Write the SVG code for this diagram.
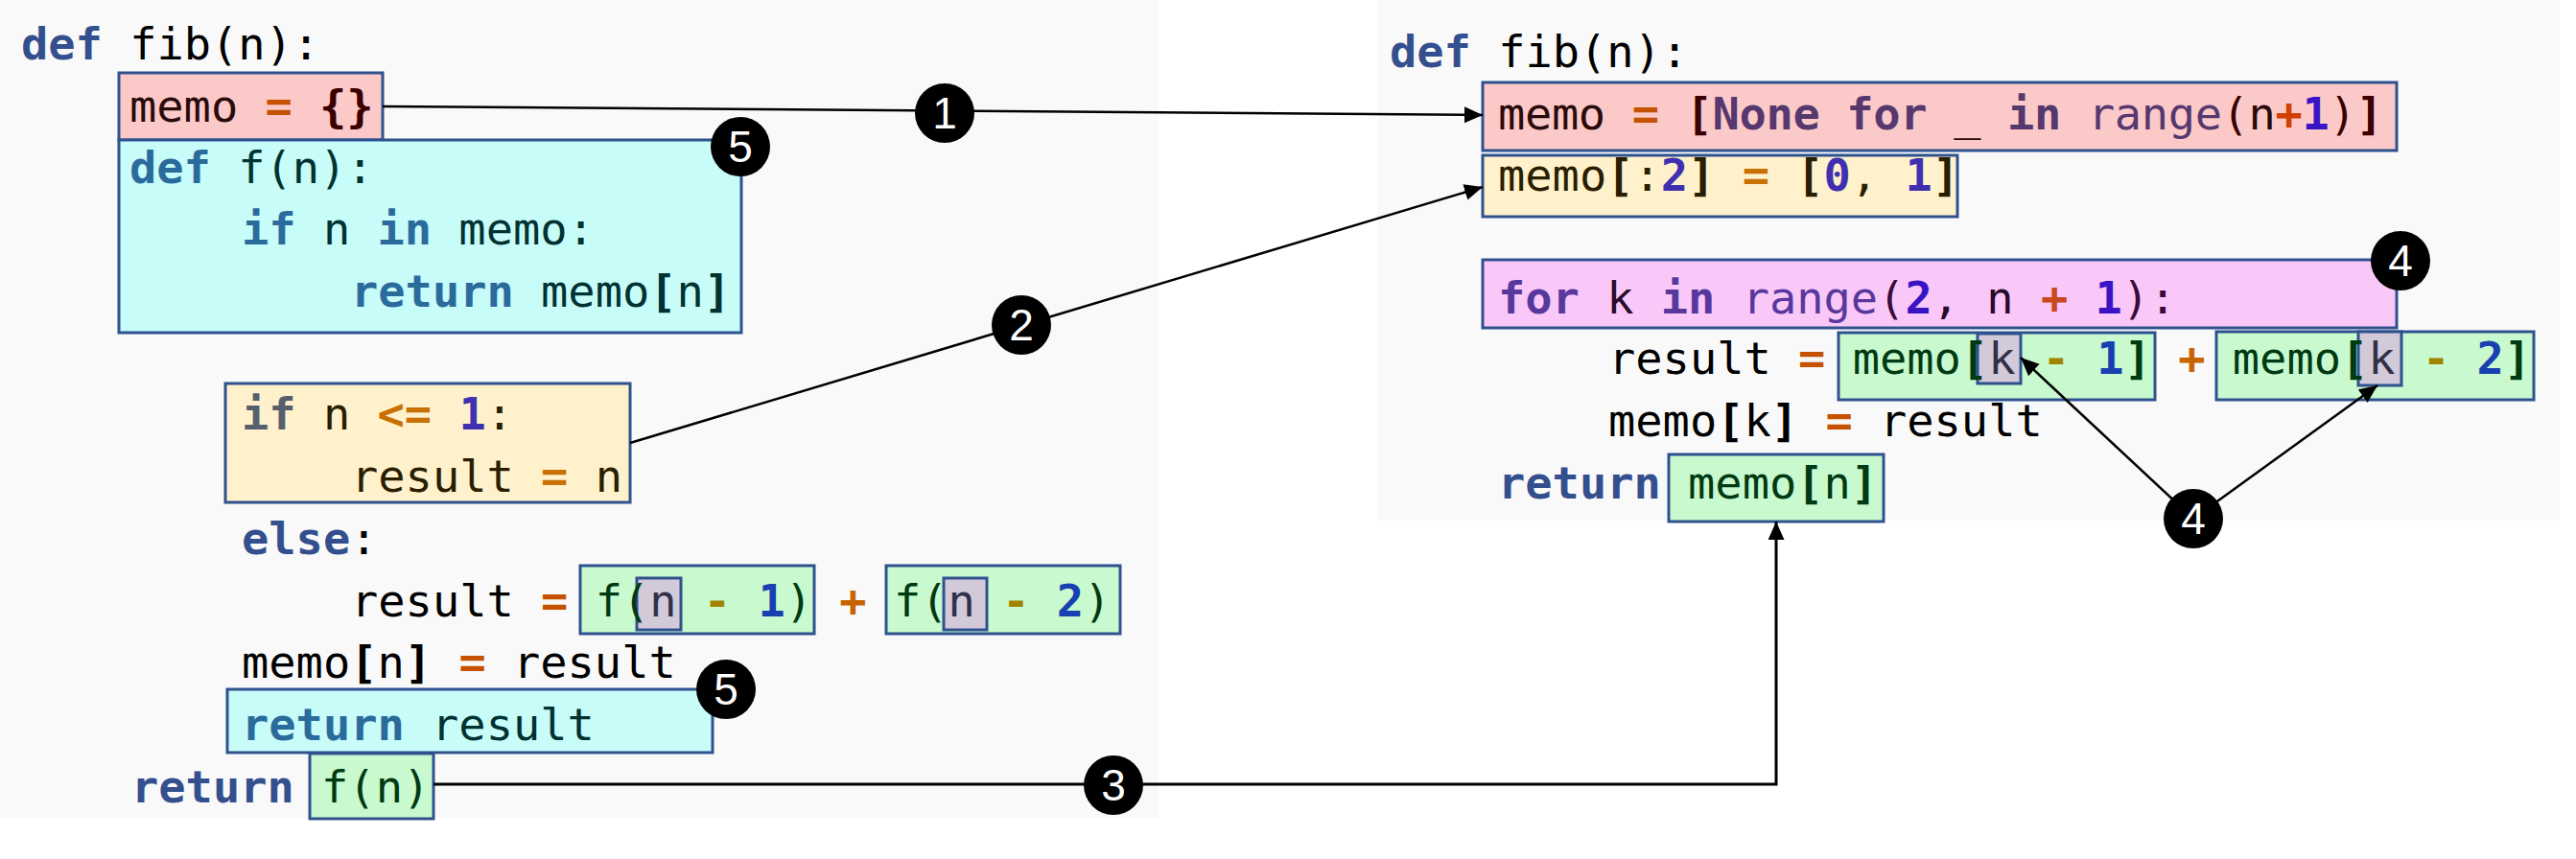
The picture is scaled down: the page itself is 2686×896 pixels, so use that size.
<svg xmlns="http://www.w3.org/2000/svg" width="2686" height="896" viewBox="0 0 2686 896">
<style>
.c{font-family:"DejaVu Sans Mono","Liberation Mono",monospace;font-size:47px;white-space:pre;fill:#000}
.b{font-weight:bold}
.kw{fill:#344f8d;font-weight:bold}
.kc{fill:#2a6b9c;font-weight:bold}
.tc{fill:#003232}
.op{fill:#c55200;font-weight:bold}
.opy{fill:#c87000;font-weight:bold}
.gr{fill:#003a12}
.gb{fill:#003a12;font-weight:bold}
.nb{fill:#1840b0;font-weight:bold}
.mi{fill:#a08400;font-weight:bold}
.pl{fill:#c86400;font-weight:bold}
.nv{fill:#303048}
.pu{fill:#56386e;font-weight:bold}
.pr{fill:#56386e}
.pm{fill:#58389c;font-weight:bold}
.pmr{fill:#58389c}
.num{fill:#3a14c4;font-weight:bold}
.bx{stroke:#2f528f;stroke-width:3}
.red{fill:#fcc9c9}.cy{fill:#c7fcf9}.ye{fill:#fff1cc}.gn{fill:#c8f9cf}.mg{fill:#f9c8f9}.kb{fill:#d2c9d9}
.ln{stroke:#000;stroke-width:2.5;fill:none}
.bd circle{fill:#000}
.bd text{font-family:"Liberation Sans","DejaVu Sans",sans-serif;font-size:46px;fill:#fff;text-anchor:middle}
</style>
<defs>
<marker id="ah" markerUnits="userSpaceOnUse" markerWidth="20" markerHeight="18" refX="19" refY="8.5" orient="auto">
<path d="M0,0 L19,8.5 L0,17 z" fill="#000"/>
</marker>
</defs>
<rect width="2686" height="896" fill="#fff"/>
<rect x="0" y="0" width="1208" height="853" fill="#f9f9f9"/>
<rect x="1436" y="0" width="1233" height="543" fill="#f9f9f9"/>

<g id="left-code">
<text class="c" x="22" y="62"><tspan class="kw">def</tspan> fib(n):</text>
</g>
<g id="node-memo-dict">
<rect class="bx red" x="124" y="76" width="275" height="70"/>
<text class="c" x="135" y="127"><tspan fill="#2a0a0a">memo </tspan><tspan class="op">=</tspan> <tspan class="b" fill="#3a0000">{}</tspan></text>
</g>
<g id="node-def-f">
<rect class="bx cy" x="124" y="146" width="649" height="201"/>
<text class="c" x="135" y="191"><tspan class="kc">def</tspan><tspan class="tc"> f(n):</tspan></text>
<text class="c" x="252" y="255"><tspan class="kc">if</tspan><tspan class="tc"> n </tspan><tspan class="kc">in</tspan><tspan class="tc"> memo:</tspan></text>
<text class="c" x="366" y="320"><tspan class="kc">return</tspan><tspan class="tc"> memo</tspan><tspan class="tc b">[</tspan><tspan class="tc">n</tspan><tspan class="tc b">]</tspan></text>
</g>
<g id="node-if-base">
<rect class="bx ye" x="235" y="400" width="422" height="124"/>
<text class="c" x="252" y="448"><tspan class="b" fill="#56606c">if</tspan><tspan fill="#2a1e00"> n </tspan><tspan class="opy">&lt;=</tspan> <tspan class="b" fill="#4030b0">1</tspan><tspan fill="#2a1e00">:</tspan></text>
<text class="c" x="366" y="513"><tspan fill="#2a1e00">result </tspan><tspan class="opy">=</tspan><tspan fill="#2a1e00"> n</tspan></text>
</g>
<g id="left-else">
<text class="c" x="252" y="578"><tspan class="kw">else</tspan>:</text>
</g>
<g id="node-recursion">
<rect class="bx gn" x="605" y="590" width="244" height="71"/>
<rect class="bx kb" x="664" y="603" width="46" height="54"/>
<rect class="bx gn" x="924" y="590" width="244" height="71"/>
<rect class="bx kb" x="984" y="603" width="45" height="54"/>
<text class="c" x="366" y="643">result <tspan class="op">=</tspan> <tspan class="gr">f(</tspan><tspan class="nv">n</tspan> <tspan class="mi">-</tspan> <tspan class="nb">1</tspan><tspan class="gr">)</tspan> <tspan class="pl">+</tspan> <tspan class="gr">f(</tspan><tspan class="nv">n</tspan> <tspan class="mi">-</tspan> <tspan class="nb">2</tspan><tspan class="gr">)</tspan></text>
</g>
<g id="left-memo-store">
<text class="c" x="252" y="707">memo<tspan class="b">[</tspan>n<tspan class="b">]</tspan> <tspan class="op">=</tspan> result</text>
</g>
<g id="node-return-result">
<rect class="bx cy" x="237" y="719" width="506" height="66"/>
<text class="c" x="252" y="772"><tspan class="kc">return</tspan><tspan class="tc"> result</tspan></text>
</g>
<g id="node-return-f">
<rect class="bx gn" x="323" y="786" width="129" height="68"/>
<text class="c" x="137" y="837"><tspan class="kw">return</tspan> <tspan class="gr">f(n)</tspan></text>
</g>

<g id="right-code">
<text class="c" x="1449" y="70"><tspan class="kw">def</tspan> fib(n):</text>
</g>
<g id="node-memo-list">
<rect class="bx red" x="1546" y="86" width="953" height="71"/>
<text class="c" x="1562" y="135" style="letter-spacing:-0.35px"><tspan fill="#2a0a0a">memo </tspan><tspan class="op">=</tspan> <tspan class="b" fill="#3a0000">[</tspan><tspan class="pu">None</tspan> <tspan class="pu">for</tspan> <tspan fill="#2a0a0a">_</tspan> <tspan class="pu">in</tspan> <tspan class="pr">range</tspan><tspan fill="#3a0000">(</tspan><tspan fill="#2a0a0a">n</tspan><tspan class="b" fill="#d04000">+</tspan><tspan class="num">1</tspan><tspan fill="#3a0000">)</tspan><tspan class="b" fill="#3a0000">]</tspan></text>
</g>
<g id="node-memo-init">
<rect class="bx ye" x="1546" y="162" width="495" height="64"/>
<text class="c" x="1562" y="199"><tspan fill="#2a1e00">memo</tspan><tspan class="b" fill="#2a1e00">[</tspan><tspan fill="#2a1e00">:</tspan><tspan class="b" fill="#4030b0">2</tspan><tspan class="b" fill="#2a1e00">]</tspan> <tspan class="opy">=</tspan> <tspan class="b" fill="#2a1e00">[</tspan><tspan class="b" fill="#4030b0">0</tspan><tspan fill="#2a1e00">,</tspan> <tspan class="b" fill="#4030b0">1</tspan><tspan class="b" fill="#2a1e00">]</tspan></text>
</g>
<g id="node-for-loop">
<rect class="bx mg" x="1546" y="271" width="953" height="71"/>
<text class="c" x="1562" y="327"><tspan class="pm">for</tspan><tspan fill="#2a0a2a"> k </tspan><tspan class="pm">in</tspan> <tspan class="pmr">range</tspan><tspan fill="#3a0a3a">(</tspan><tspan class="num">2</tspan><tspan fill="#2a0a2a">, n </tspan><tspan class="b" fill="#c84820">+</tspan> <tspan class="num">1</tspan><tspan fill="#3a0a3a">):</tspan></text>
</g>
<g id="node-memo-sum">
<rect class="bx gn" x="1917" y="347" width="330" height="70"/>
<rect class="bx kb" x="2062" y="348" width="45" height="52"/>
<rect class="bx gn" x="2311" y="346" width="331" height="71"/>
<rect class="bx kb" x="2459" y="346" width="45" height="56"/>
<text class="c" x="1677" y="390">result <tspan class="op">=</tspan> <tspan class="gr">memo</tspan><tspan class="gb">[</tspan><tspan class="nv">k</tspan> <tspan class="mi">-</tspan> <tspan class="nb">1</tspan><tspan class="gb">]</tspan> <tspan class="pl">+</tspan> <tspan class="gr">memo</tspan><tspan class="gb">[</tspan><tspan class="nv">k</tspan> <tspan class="mi">-</tspan> <tspan class="nb">2</tspan><tspan class="gb">]</tspan></text>
</g>
<g id="right-memo-store">
<text class="c" x="1677" y="455">memo<tspan class="b">[</tspan>k<tspan class="b">]</tspan> <tspan class="op">=</tspan> result</text>
</g>
<g id="node-return-memo">
<rect class="bx gn" x="1740" y="474" width="224" height="70"/>
<text class="c" x="1562" y="520"><tspan class="kw">return</tspan> <tspan class="gr">memo</tspan><tspan class="gb">[</tspan><tspan class="gr">n</tspan><tspan class="gb">]</tspan></text>
</g>

<g id="connectors">
<line class="ln" x1="399" y1="111" x2="1546" y2="120" marker-end="url(#ah)"/>
<line class="ln" x1="657" y1="462" x2="1546" y2="195" marker-end="url(#ah)"/>
<polyline class="ln" style="stroke-width:3" points="452,818 1852,818 1852,544" marker-end="url(#ah)"/>
<line class="ln" x1="2287" y1="541" x2="2107" y2="373" marker-end="url(#ah)"/>
<line class="ln" x1="2287" y1="541" x2="2479" y2="402" marker-end="url(#ah)"/>
</g>

<g id="badge-1" class="bd"><circle cx="985" cy="118" r="31"/><text x="985" y="134">1</text></g>
<g id="badge-2" class="bd"><circle cx="1065" cy="339" r="31"/><text x="1065" y="355">2</text></g>
<g id="badge-3" class="bd"><circle cx="1161" cy="819" r="31"/><text x="1161" y="835">3</text></g>
<g id="badge-4-top" class="bd"><circle cx="2503" cy="272" r="31"/><text x="2503" y="288">4</text></g>
<g id="badge-4-bottom" class="bd"><circle cx="2287" cy="541" r="31"/><text x="2287" y="557">4</text></g>
<g id="badge-5-top" class="bd"><circle cx="772" cy="153" r="31"/><text x="772" y="169">5</text></g>
<g id="badge-5-bottom" class="bd"><circle cx="757" cy="719" r="31"/><text x="757" y="735">5</text></g>
</svg>
